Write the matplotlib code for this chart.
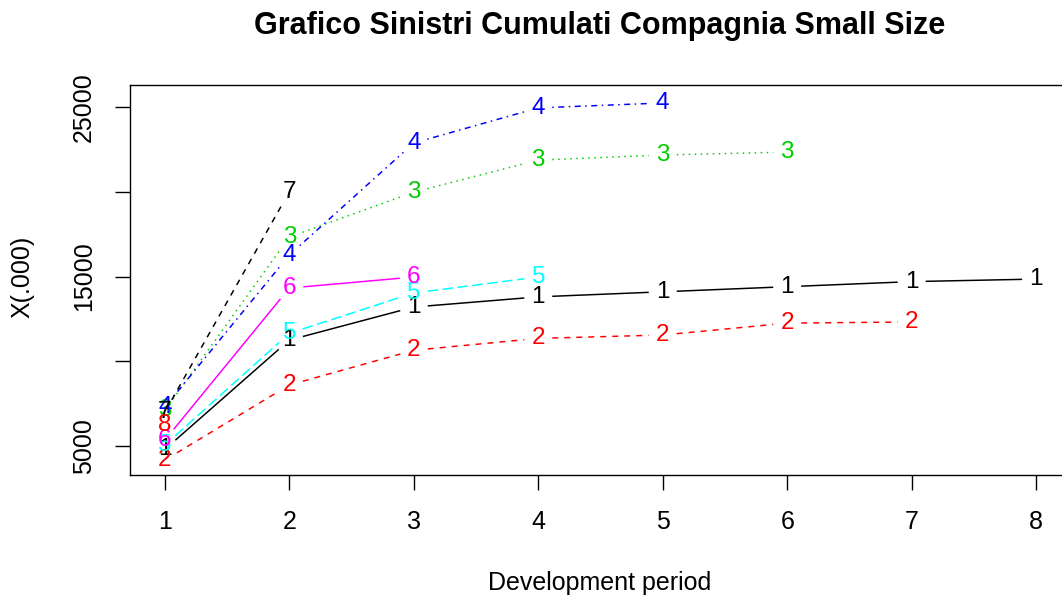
import matplotlib
matplotlib.use("Agg")
import matplotlib.pyplot as plt
import numpy as np

plt.rcParams['font.family'] = ['Liberation Sans', 'DejaVu Sans']

# ---- data (cumulative claims by origin year, development periods) ----
periods = [1, 2, 3, 4, 5, 6, 7, 8]
s1 = [4800, 11250, 13200, 13800, 14100, 14400, 14700, 14850]
s2 = [4170, 8600, 10650, 11350, 11550, 12250, 12320]
s3 = [7100, 17330, 19980, 21870, 22170, 22340]
s4 = [7300, 16270, 22880, 24950, 25240]
s5 = [5050, 11650, 14030, 14970]
s6 = [5350, 14320, 14970]
s7 = [7000, 20000]
s8 = [6250]
series = [s1, s2, s3, s4, s5, s6, s7, s8]
labels = ["1", "2", "3", "4", "5", "6", "7", "8"]

title = "Grafico Sinistri Cumulati Compagnia Small Size"
xlabel = "Development period"
ylabel = "X(.000)"
yticks = [5000, 10000, 15000, 20000, 25000]
ytick_labels = ["5000", "", "15000", "", "25000"]

# R default palette and line types (matplot cycling)
colors = ["#000000", "#FF0000", "#00CD00", "#0000FF", "#00FFFF", "#FF00FF"]
ltys = ["-", (0, (4, 4)), (0, (1, 3)), (0, (1, 3, 4, 3)), (0, (7, 3))]

W, H = 1062, 601
fig = plt.figure(figsize=(W / 100, H / 100), dpi=100)
left, right, top, bottom = 130, 1071, 85, 475
ax = fig.add_axes([left / W, (H - bottom) / H, (right - left) / W, (bottom - top) / H])

ax.set_xlim(0.72, 8.28)
ax.set_ylim(3290, 26300)

lw = 1.08
gap = 14  # pixels

inv = ax.transData.inverted()
for i, ys in enumerate(series):
    col = colors[i % len(colors)]
    ls = ltys[i % len(ltys)]
    xs = periods[:len(ys)]
    pts = ax.transData.transform(np.column_stack([xs, ys]))
    for j in range(len(pts) - 1):
        p0, p1 = pts[j], pts[j + 1]
        d = p1 - p0
        L = np.hypot(d[0], d[1])
        if L > 2 * gap:
            u = d / L
            seg = inv.transform(np.array([p0 + u * gap, p1 - u * gap]))
            ax.plot(seg[:, 0], seg[:, 1], color=col, lw=lw, linestyle=ls,
                    solid_capstyle='butt', dash_capstyle='butt')
    for x, y in zip(xs, ys):
        ax.text(x, y, labels[i], color=col, ha='center', va='center',
                fontsize=17.5)

ax.set_xticks(periods)
ax.set_xticklabels([str(p) for p in periods], fontsize=18)
ax.set_yticks(yticks)
ax.set_yticklabels(ytick_labels, fontsize=18, rotation=90, va='center')
ax.tick_params(axis='x', length=10.5, width=1.0, pad=15)
ax.tick_params(axis='y', length=10.5, width=1.0, pad=14)
for sp in ax.spines.values():
    sp.set_linewidth(1.0)

fig.text(600 / W, 1 - 26 / H, title, ha='center', va='center',
         fontsize=22, fontweight='bold')
fig.text(600 / W, 1 - 583 / H, xlabel, ha='center', va='center', fontsize=18)
fig.text(22 / W, 1 - 277 / H, ylabel, ha='center', va='center', fontsize=18,
         rotation=90)

fig.savefig("out.png", dpi=100)
